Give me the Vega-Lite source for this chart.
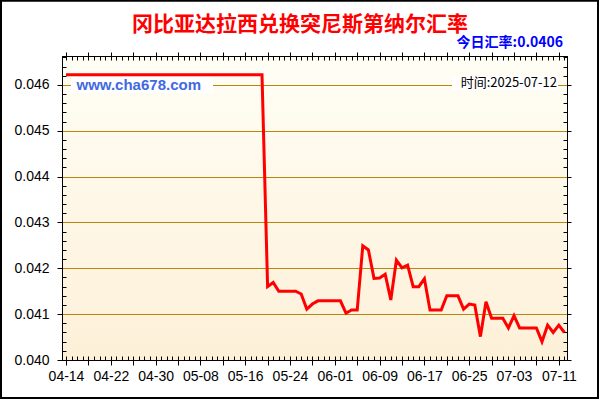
{
  "$schema": "https://vega.github.io/schema/vega-lite/v6.json",
  "description": "Gambian dalasi to Tunisian dinar exchange rate",
  "autosize": {"type": "none"},
  "width": 505,
  "height": 304,
  "padding": {"left": 62, "top": 56, "right": 33, "bottom": 40},
  "background": "white",
  "data": {
    "values": [
      {"date": "2025-04-14", "rate": 0.04622},
      {"date": "2025-04-15", "rate": 0.04622},
      {"date": "2025-04-16", "rate": 0.04622},
      {"date": "2025-04-17", "rate": 0.04622},
      {"date": "2025-04-18", "rate": 0.04622},
      {"date": "2025-04-19", "rate": 0.04622},
      {"date": "2025-04-20", "rate": 0.04622},
      {"date": "2025-04-21", "rate": 0.04622},
      {"date": "2025-04-22", "rate": 0.04622},
      {"date": "2025-04-23", "rate": 0.04622},
      {"date": "2025-04-24", "rate": 0.04622},
      {"date": "2025-04-25", "rate": 0.04622},
      {"date": "2025-04-26", "rate": 0.04622},
      {"date": "2025-04-27", "rate": 0.04622},
      {"date": "2025-04-28", "rate": 0.04622},
      {"date": "2025-04-29", "rate": 0.04622},
      {"date": "2025-04-30", "rate": 0.04622},
      {"date": "2025-05-01", "rate": 0.04622},
      {"date": "2025-05-02", "rate": 0.04622},
      {"date": "2025-05-03", "rate": 0.04622},
      {"date": "2025-05-04", "rate": 0.04622},
      {"date": "2025-05-05", "rate": 0.04622},
      {"date": "2025-05-06", "rate": 0.04622},
      {"date": "2025-05-07", "rate": 0.04622},
      {"date": "2025-05-08", "rate": 0.04622},
      {"date": "2025-05-09", "rate": 0.04622},
      {"date": "2025-05-10", "rate": 0.04622},
      {"date": "2025-05-11", "rate": 0.04622},
      {"date": "2025-05-12", "rate": 0.04622},
      {"date": "2025-05-13", "rate": 0.04622},
      {"date": "2025-05-14", "rate": 0.04622},
      {"date": "2025-05-15", "rate": 0.04622},
      {"date": "2025-05-16", "rate": 0.04622},
      {"date": "2025-05-17", "rate": 0.04622},
      {"date": "2025-05-18", "rate": 0.04622},
      {"date": "2025-05-19", "rate": 0.04622},
      {"date": "2025-05-20", "rate": 0.0416},
      {"date": "2025-05-21", "rate": 0.04169},
      {"date": "2025-05-22", "rate": 0.0415},
      {"date": "2025-05-23", "rate": 0.0415},
      {"date": "2025-05-24", "rate": 0.0415},
      {"date": "2025-05-25", "rate": 0.0415},
      {"date": "2025-05-26", "rate": 0.04144},
      {"date": "2025-05-27", "rate": 0.04111},
      {"date": "2025-05-28", "rate": 0.04122},
      {"date": "2025-05-29", "rate": 0.04129},
      {"date": "2025-05-30", "rate": 0.04129},
      {"date": "2025-05-31", "rate": 0.04129},
      {"date": "2025-06-01", "rate": 0.04129},
      {"date": "2025-06-02", "rate": 0.04129},
      {"date": "2025-06-03", "rate": 0.04102},
      {"date": "2025-06-04", "rate": 0.04109},
      {"date": "2025-06-05", "rate": 0.04109},
      {"date": "2025-06-06", "rate": 0.04249},
      {"date": "2025-06-07", "rate": 0.0424},
      {"date": "2025-06-08", "rate": 0.04178},
      {"date": "2025-06-09", "rate": 0.04179},
      {"date": "2025-06-10", "rate": 0.04187},
      {"date": "2025-06-11", "rate": 0.04131},
      {"date": "2025-06-12", "rate": 0.04218},
      {"date": "2025-06-13", "rate": 0.04201},
      {"date": "2025-06-14", "rate": 0.04207},
      {"date": "2025-06-15", "rate": 0.0416},
      {"date": "2025-06-16", "rate": 0.0416},
      {"date": "2025-06-17", "rate": 0.04177},
      {"date": "2025-06-18", "rate": 0.04109},
      {"date": "2025-06-19", "rate": 0.04109},
      {"date": "2025-06-20", "rate": 0.04109},
      {"date": "2025-06-21", "rate": 0.0414},
      {"date": "2025-06-22", "rate": 0.0414},
      {"date": "2025-06-23", "rate": 0.0414},
      {"date": "2025-06-24", "rate": 0.04111},
      {"date": "2025-06-25", "rate": 0.04122},
      {"date": "2025-06-26", "rate": 0.0412},
      {"date": "2025-06-27", "rate": 0.04051},
      {"date": "2025-06-28", "rate": 0.04127},
      {"date": "2025-06-29", "rate": 0.04091},
      {"date": "2025-06-30", "rate": 0.04091},
      {"date": "2025-07-01", "rate": 0.04091},
      {"date": "2025-07-02", "rate": 0.0407},
      {"date": "2025-07-03", "rate": 0.04097},
      {"date": "2025-07-04", "rate": 0.0407},
      {"date": "2025-07-05", "rate": 0.0407},
      {"date": "2025-07-06", "rate": 0.0407},
      {"date": "2025-07-07", "rate": 0.0407},
      {"date": "2025-07-08", "rate": 0.0404},
      {"date": "2025-07-09", "rate": 0.04076},
      {"date": "2025-07-10", "rate": 0.0406},
      {"date": "2025-07-11", "rate": 0.04076},
      {"date": "2025-07-12", "rate": 0.0406}
    ]
  },
  "layer": [
    {
      "data": {"values": [{}]},
      "mark": {"type": "rect", "fill": null, "stroke": "#000000", "strokeWidth": 2},
      "encoding": {
        "x": {"datum": 1743585943000, "type": "temporal", "axis": null},
        "x2": {"datum": 1752796800000},
        "y": {"datum": 0.047833, "type": "quantitative", "axis": null},
        "y2": {"datum": 0.039171}
      }
    },
    {
      "data": {"values": [{}]},
      "mark": {"type": "rect", "fill": "white"},
      "encoding": {
        "x": {"datum": 1744665943000, "type": "temporal", "axis": null},
        "x2": {"datum": 1746856800000},
        "y": {"datum": 0.046175, "type": "quantitative", "axis": null},
        "y2": {"datum": 0.045825}
      }
    },
    {
      "data": {"values": [{}]},
      "mark": {"type": "rect", "fill": "white"},
      "encoding": {
        "x": {"datum": 1750544229000, "type": "temporal", "axis": null},
        "x2": {"datum": 1752179657000},
        "y": {"datum": 0.046196, "type": "quantitative", "axis": null},
        "y2": {"datum": 0.045891}
      }
    },
    {
      "mark": {"type": "line", "color": "#ff0000", "strokeWidth": 3},
      "encoding": {
        "x": {
          "field": "date",
          "type": "temporal",
          "scale": {"type": "utc", "domain": [1744527086000, 1752318514000], "nice": false},
          "axis": {
            "orient": "bottom",
            "title": null,
            "grid": false,
            "values": [1744588800000, 1744934400000, 1745280000000, 1745625600000, 1745971200000, 1746316800000, 1746662400000, 1747008000000, 1747353600000, 1747699200000, 1748044800000, 1748390400000, 1748736000000, 1749081600000, 1749427200000, 1749772800000, 1750118400000, 1750464000000, 1750809600000, 1751155200000, 1751500800000, 1751846400000, 1752192000000],
            "labelExpr": "(round((datum.value - 1744588800000) / 86400000) % 8 == 0) ? utcFormat(datum.value, '%m-%d') : ''",
            "tickSize": 5,
            "labelPadding": 4,
            "labelFlush": false,
            "labelOverlap": false
          }
        },
        "y": {
          "field": "rate",
          "type": "quantitative",
          "scale": {"domain": [0.04, 0.04663], "zero": false, "nice": false},
          "axis": {
            "orient": "left",
            "title": null,
            "grid": true,
            "values": [0.04, 0.041, 0.042, 0.043, 0.044, 0.045, 0.046],
            "format": ".3f",
            "tickSize": 5,
            "labelPadding": 8
          }
        }
      }
    },
    {
      "mark": {"type": "line", "opacity": 0},
      "encoding": {
        "x": {
          "field": "date",
          "type": "temporal",
          "axis": {"orient": "bottom", "title": null, "grid": false, "labels": false, "domain": false, "tickCount": {"interval": "day", "step": 1}, "tickSize": -4}
        },
        "y": {
          "field": "rate",
          "type": "quantitative",
          "axis": {"orient": "left", "title": null, "grid": false, "labels": false, "domain": false, "values": [0.0402, 0.0404, 0.0406, 0.0408, 0.0412, 0.0414, 0.0416, 0.0418, 0.0422, 0.0424, 0.0426, 0.0428, 0.0432, 0.0434, 0.0436, 0.0438, 0.0442, 0.0444, 0.0446, 0.0448, 0.0452, 0.0454, 0.0456, 0.0458, 0.0462, 0.0464, 0.0466], "tickSize": -4}
        }
      }
    },
    {
      "mark": {"type": "line", "opacity": 0},
      "encoding": {
        "x": {
          "field": "date",
          "type": "temporal",
          "axis": {"orient": "top", "title": null, "grid": false, "labels": false, "values": [1744588800000, 1744934400000, 1745280000000, 1745625600000, 1745971200000, 1746316800000, 1746662400000, 1747008000000, 1747353600000, 1747699200000, 1748044800000, 1748390400000, 1748736000000, 1749081600000, 1749427200000, 1749772800000, 1750118400000, 1750464000000, 1750809600000, 1751155200000, 1751500800000, 1751846400000, 1752192000000], "tickSize": 4}
        },
        "y": {
          "field": "rate",
          "type": "quantitative",
          "axis": {"orient": "right", "title": null, "grid": false, "labels": false, "values": [0.04, 0.041, 0.042, 0.043, 0.044, 0.045, 0.046], "tickSize": 4}
        }
      }
    },
    {
      "mark": {"type": "line", "opacity": 0},
      "encoding": {
        "x": {
          "field": "date",
          "type": "temporal",
          "axis": {"orient": "top", "title": null, "grid": false, "labels": false, "domain": false, "tickCount": {"interval": "day", "step": 1}, "tickSize": -4}
        },
        "y": {
          "field": "rate",
          "type": "quantitative",
          "axis": {"orient": "right", "title": null, "grid": false, "labels": false, "domain": false, "values": [0.0402, 0.0404, 0.0406, 0.0408, 0.0412, 0.0414, 0.0416, 0.0418, 0.0422, 0.0424, 0.0426, 0.0428, 0.0432, 0.0434, 0.0436, 0.0438, 0.0442, 0.0444, 0.0446, 0.0448, 0.0452, 0.0454, 0.0456, 0.0458, 0.0462, 0.0464, 0.0466], "tickSize": -4}
        }
      }
    },
    {
      "data": {"values": [{}]},
      "mark": {"type": "text", "text": "冈比亚达拉西兑换突尼斯第纳尔汇率", "font": "Noto Sans CJK SC", "fontSize": 21, "fontWeight": "bold", "color": "#ff0000", "align": "center", "baseline": "middle"},
      "encoding": {
        "x": {"datum": 1748199086000, "type": "temporal", "axis": null},
        "y": {"datum": 0.047309, "type": "quantitative", "axis": null}
      }
    },
    {
      "data": {"values": [{}]},
      "mark": {"type": "text", "text": "今日汇率:0.0406", "font": "Noto Sans CJK SC", "fontSize": 14, "fontWeight": "bold", "color": "#0000ff", "align": "right", "baseline": "middle"},
      "encoding": {
        "x": {"datum": 1752256800000, "type": "temporal", "axis": null},
        "y": {"datum": 0.046923, "type": "quantitative", "axis": null}
      }
    },
    {
      "data": {"values": [{}]},
      "mark": {"type": "text", "text": "时间:2025-07-12", "font": "Noto Sans CJK SC", "fontSize": 13, "color": "#000000", "align": "right", "baseline": "middle"},
      "encoding": {
        "x": {"datum": 1752164352000, "type": "temporal", "axis": null},
        "y": {"datum": 0.046044, "type": "quantitative", "axis": null}
      }
    },
    {
      "data": {"values": [{}]},
      "mark": {"type": "text", "text": "www.cha678.com", "font": "Liberation Sans", "fontSize": 15, "fontWeight": "bold", "color": "#4169e1", "align": "left", "baseline": "middle"},
      "encoding": {
        "x": {"datum": 1744750800000, "type": "temporal", "axis": null},
        "y": {"datum": 0.046, "type": "quantitative", "axis": null}
      }
    }
  ],
  "resolve": {"axis": {"x": "independent", "y": "independent"}},
  "config": {
    "view": {
      "stroke": "#000000",
      "strokeWidth": 1,
      "fill": {
        "gradient": "linear",
        "x1": 0, "y1": 0, "x2": 0, "y2": 1,
        "stops": [
          {"offset": 0, "color": "#fffef5"},
          {"offset": 1, "color": "#fdf0d8"}
        ]
      }
    },
    "axis": {
      "domainColor": "#000000",
      "tickColor": "#000000",
      "labelColor": "#000000",
      "labelFont": "Liberation Sans",
      "labelFontSize": 14,
      "gridColor": "#b8860b",
      "gridOpacity": 1,
      "gridWidth": 1
    }
  }
}
